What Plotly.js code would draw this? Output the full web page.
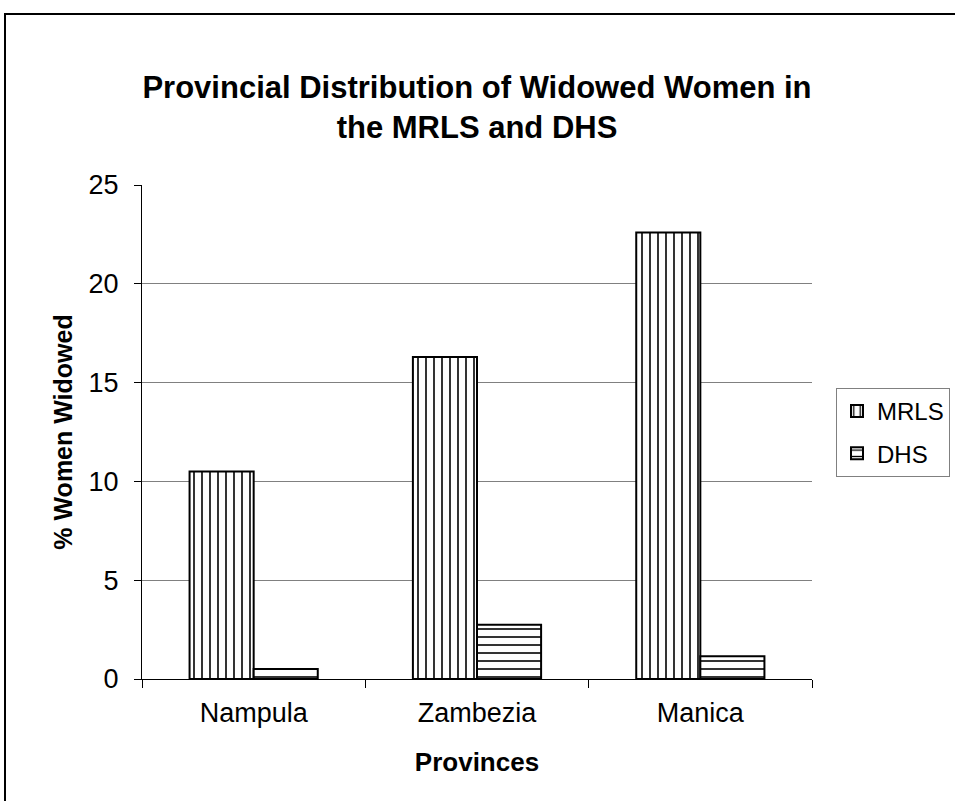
<!DOCTYPE html>
<html>
<head>
<meta charset="utf-8">
<script src="https://cdn.plot.ly/plotly-3.0.1.min.js"></script>
<style>html,body{margin:0;padding:0;background:#fff;}#chart{width:955px;height:801px;}</style>
</head>
<body>
<div id="chart"></div>
<script>
const provinces = ["Nampula", "Zambezia", "Manica"];
const mrls = [10.5, 16.3, 22.6];
const dhs = [0.5, 2.75, 1.15];
const seriesNames = ["MRLS", "DHS"];

const FONT = "Liberation Sans, Arial, sans-serif";
const traces = [
  {type: "bar", name: seriesNames[0], legendgroup: "g1", x: provinces, y: mrls,
   marker: {color: "white", line: {color: "black", width: 2},
            pattern: {shape: "|", size: 8, solidity: 0.2, fgcolor: "black", bgcolor: "white"}}},
  {type: "bar", name: seriesNames[1], legendgroup: "g2", x: provinces, y: dhs,
   marker: {color: "white", line: {color: "black", width: 2},
            pattern: {shape: "-", size: 8, solidity: 0.2, fgcolor: "black", bgcolor: "white"}}}
];
const L = 142, R = 812, T = 185, B = 679, W = 955, H = 801;
const px = v => (v - L) / (R - L);
const py = v => (B - v) / (B - T);
const layout = {
  width: W, height: H,
  margin: {l: L, r: W - R, t: T, b: H - B, pad: 0, autoexpand: false},
  paper_bgcolor: "white", plot_bgcolor: "white",
  font: {family: FONT, size: 27, color: "black"},
  title: {text: "<b>Provincial Distribution of Widowed Women in<br>the MRLS and DHS</b>",
          font: {family: FONT, size: 31, color: "black"},
          x: 0.5, xref: "paper", xanchor: "center", y: 1 - 98 / H, yref: "container", yanchor: "middle"},
  barmode: "group", bargap: 0.426, bargroupgap: 0,
  xaxis: {showline: true, linecolor: "black", linewidth: 1, ticks: "outside", tickson: "boundaries",
          ticklen: 8, tickcolor: "black", tickfont: {size: 27}, ticklabelstandoff: 10, automargin: false,
          title: {text: "<b>Provinces</b>", font: {size: 26}, standoff: 25}},
  yaxis: {range: [0, 25], dtick: 5, showline: true, linecolor: "black", linewidth: 1, automargin: false,
          ticks: "outside", ticklen: 7, tickcolor: "black", tickfont: {size: 27}, ticklabelstandoff: 10,
          gridcolor: "#808080", gridwidth: 1, zeroline: false,
          title: {text: "<b>% Women Widowed</b>", font: {size: 25}, standoff: 8}},
  legend: {x: px(836), xanchor: "left", y: py(388), yanchor: "top",
           bordercolor: "#808080", borderwidth: 1, font: {size: 24}, bgcolor: "white",
           tracegroupgap: 8},
  shapes: [{type: "path", xref: "paper", yref: "paper",
            path: `M ${px(5)} ${py(H + 5)} L ${px(5)} ${py(14)} L ${px(W + 5)} ${py(14)}`,
            line: {color: "black", width: 2}}],
  showlegend: true
};
Plotly.newPlot("chart", traces, layout, {displayModeBar: false, staticPlot: true});
</script>
</body>
</html>
